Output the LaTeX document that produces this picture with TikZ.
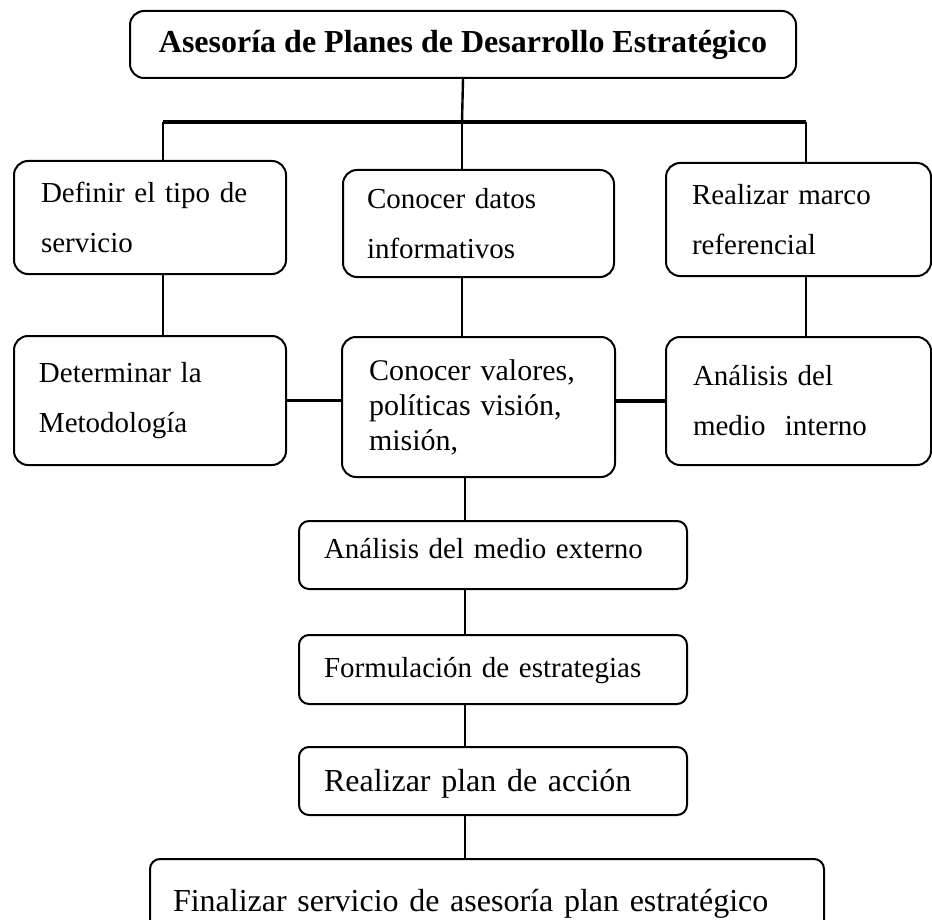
\documentclass[tikz,border=0pt]{standalone}
\usepackage{fontspec}
\setmainfont{Liberation Serif}

\begin{document}
\begin{tikzpicture}[x=0.5pt,y=-0.5pt,
          caja/.style={draw,line width=1pt,rounded corners=7pt,anchor=north west,
            align=left,inner ysep=0pt},
          txt/.style={font=\fontsize{14.5}{25}\selectfont},
          txtg/.style={font=\fontsize{16}{19}\selectfont},
          linea/.style={line width=1.2pt},
          barra/.style={line width=1.6pt}]
        \useasboundingbox (0,0) rectangle (932,920);
        \clip (0,0) rectangle (932,920);
        \node[caja, align=center, minimum width=333pt, minimum height=33.5pt,
          font=\fontsize{16}{19}\selectfont\bfseries]
        (asesoria) at (129,10) {Asesoría de Planes de Desarrollo Estratégico};
        \node[caja, txt, text width=109pt, inner xsep=13.5pt, minimum height=56.5pt]
        (definir) at (13,160) {Definir el tipo de\\servicio};
        \node[caja, txt, text width=111.5pt, inner xsep=12pt, minimum height=53.5pt]
        (datos) at (342,169) {Conocer datos\\informativos};
        \node[caja, txt, text width=106.5pt, inner xsep=13pt, minimum height=56.5pt]
        (marco) at (665,162) {Realizar marco\\referencial};
        \node[caja, txt, text width=111pt, inner xsep=12.5pt, minimum height=64.5pt]
        (metodo) at (13,335) {Determinar la\\Metodología};
        \node[caja, font=\fontsize{15}{17.5}\selectfont, text width=109.5pt,
          inner xsep=13.5pt, minimum height=70pt]
        (valores) at (341,336) {Conocer valores,\\políticas visión,\\misión,};
        \node[caja, txt, text width=105.5pt, inner xsep=13.5pt, minimum height=64pt]
        (interno) at (665,336) {Análisis del\\medio\ \ interno};
        \node[caja, txt, rounded corners=5pt, text width=169pt, inner xsep=12.5pt,
          text height=18.5pt, text depth=15.5pt]
        (externo) at (298,520) {Análisis del medio externo};
        \node[caja, txt, rounded corners=5pt, text width=169pt, inner xsep=12.5pt,
          text height=21pt, text depth=13.5pt]
        (estrategias) at (298,634) {Formulación de estrategias};
        \node[caja, txtg, rounded corners=5pt, text width=169pt, inner xsep=12.5pt,
          text height=22pt, text depth=12pt]
        (accion) at (298,746) {Realizar plan de acción};
        \node[caja, txtg, rounded corners=5pt, text width=314pt, inner xsep=11.5pt,
          text height=26pt, text depth=14pt]
        (final) at (149,858) {Finalizar servicio de asesoría plan estratégico};
        \coordinate (bi) at (163,122);
        \coordinate (bc) at (462,122);
        \coordinate (bd) at (806,122);
        \coordinate (eje) at (465,500);
        \draw[linea](asesoria.south)--(bc); \draw[barra](bi)--(bd);
        \draw[linea](bi)--(bi |- definir.north);
        \draw[linea](bc)--(bc |- datos.north);
        \draw[linea](bd)--(bd |- marco.north);
        \draw[linea](bi |- definir.south)--(bi |- metodo.north);
        \draw[linea](bc |- datos.south)--(bc |- valores.north);
        \draw[linea](bd |- marco.south)--(bd |- interno.north);
        \draw[barra](metodo.east)--(metodo.east -| valores.west);
        \draw[barra](valores.east |- interno.west)--(interno.west);
        \draw[linea](eje |- valores.south)--(eje |- externo.north);
        \draw[linea](eje |- externo.south)--(eje |- estrategias.north);
        \draw[linea](eje |- estrategias.south)--(eje |- accion.north);
        \draw[linea](eje |- accion.south)--(eje |- final.north);
      \end{tikzpicture}
\end{document}
